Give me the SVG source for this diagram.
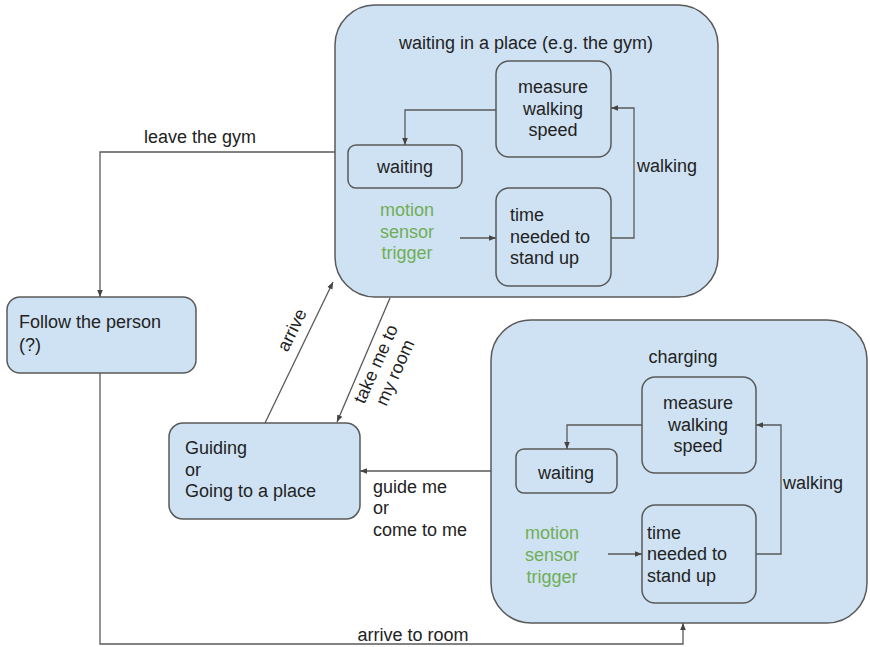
<svg xmlns="http://www.w3.org/2000/svg" width="870" height="647" viewBox="0 0 870 647">
<defs>
<marker id="ah" viewBox="0 0 10 10" refX="10" refY="5" markerWidth="7" markerHeight="7" markerUnits="userSpaceOnUse" orient="auto">
<path d="M0,1 L10,5 L0,9 z" fill="#444"/>
</marker>
</defs>
<style>
.box{fill:#cfe2f3;stroke:#595959;stroke-width:1.5}
.t{font-family:"Liberation Sans",Arial,sans-serif;font-size:18px;fill:#222}
.c{text-anchor:middle}
.g{fill:#6fae55}
.ln{fill:none;stroke:#595959;stroke-width:1.3;marker-end:url(#ah)}
.ln2{fill:none;stroke:#595959;stroke-width:1.3}
</style>
<rect width="870" height="647" fill="#fff"/>

<g id="gym">
<rect class="box" x="335" y="5" width="383" height="292" rx="40"/>
<text class="t c" x="526" y="49">waiting in a place (e.g. the gym)</text>
</g>
<g id="gym-measure">
<rect class="box" x="496" y="61" width="115" height="96" rx="13"/>
<text class="t c" x="553" y="93">measure</text>
<text class="t c" x="553" y="115">walking</text>
<text class="t c" x="553" y="136">speed</text>
</g>
<g id="gym-waiting">
<rect class="box" x="348" y="145" width="114" height="43" rx="8"/>
<text class="t c" x="405" y="173">waiting</text>
</g>
<g id="gym-motion">
<text class="t c g" x="407" y="216">motion</text>
<text class="t c g" x="407" y="238">sensor</text>
<text class="t c g" x="407" y="259">trigger</text>
</g>
<g id="gym-time">
<rect class="box" x="496" y="188" width="115" height="98" rx="13"/>
<text class="t" x="510" y="221">time</text>
<text class="t" x="510" y="243">needed to</text>
<text class="t" x="510" y="264">stand up</text>
</g>

<g id="follow">
<rect class="box" x="7" y="297" width="189" height="76" rx="13"/>
<text class="t" x="19" y="328">Follow the person</text>
<text class="t" x="19" y="351">(?)</text>
</g>

<g id="guiding">
<rect class="box" x="169" y="423" width="191" height="96" rx="14"/>
<text class="t" x="185" y="454">Guiding</text>
<text class="t" x="185" y="476">or</text>
<text class="t" x="185" y="497">Going to a place</text>
</g>

<g id="charging">
<rect class="box" x="491" y="320" width="376" height="303" rx="40"/>
<text class="t c" x="683" y="363">charging</text>
</g>
<g id="ch-measure">
<rect class="box" x="642" y="377" width="114" height="96" rx="13"/>
<text class="t c" x="698" y="409">measure</text>
<text class="t c" x="698" y="431">walking</text>
<text class="t c" x="698" y="452">speed</text>
</g>
<g id="ch-waiting">
<rect class="box" x="516" y="449" width="101" height="44" rx="8"/>
<text class="t c" x="566" y="479">waiting</text>
</g>
<g id="ch-motion">
<text class="t c g" x="552" y="539">motion</text>
<text class="t c g" x="552" y="561">sensor</text>
<text class="t c g" x="552" y="583">trigger</text>
</g>
<g id="ch-time">
<rect class="box" x="642" y="505" width="114" height="98" rx="13"/>
<text class="t" x="647" y="539">time</text>
<text class="t" x="647" y="560">needed to</text>
<text class="t" x="647" y="582">stand up</text>
</g>

<g id="connectors">
<path class="ln" d="M496,110 H405 V145"/>
<path class="ln" d="M460,238 H496"/>
<path class="ln" d="M611,238 H634 V108 H611"/>
<path class="ln" d="M335,152 H100 V297"/>
<path class="ln" d="M265,423 L333,282"/>
<path class="ln" d="M390,298 L337,422"/>
<path class="ln" d="M491,471 H360"/>
<path class="ln" d="M100,373 V644 H683 V623"/>
<path class="ln" d="M642,425 H567 V449"/>
<path class="ln" d="M608,554 H642"/>
<path class="ln" d="M756,554 H781 V425 H756"/>
<text class="t" x="637" y="172">walking</text>
<text class="t c" x="200" y="143">leave the gym</text>
<text class="t c" transform="translate(292,330) rotate(-64)" y="6">arrive</text>
<g transform="translate(385,368) rotate(-66)">
<text class="t c" x="0" y="-4">take me to</text>
<text class="t c" x="0" y="17">my room</text>
</g>
<text class="t" x="373" y="493">guide me</text>
<text class="t" x="373" y="514">or</text>
<text class="t" x="373" y="536">come to me</text>
<text class="t" x="783" y="489">walking</text>
<text class="t c" x="413" y="641">arrive to room</text>
</g>
</svg>
